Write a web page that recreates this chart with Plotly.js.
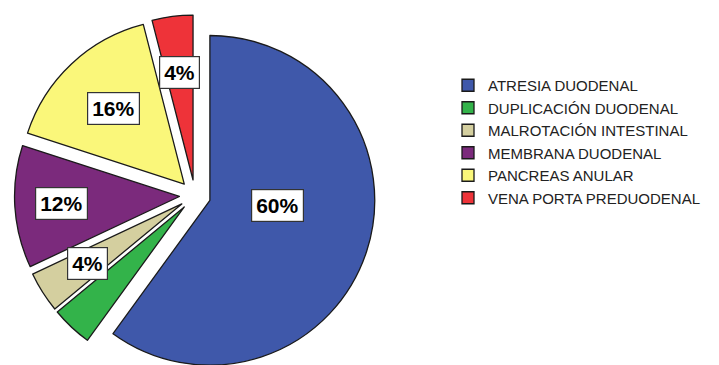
<!DOCTYPE html>
<html><head><meta charset="utf-8">
<script src="https://cdn.plot.ly/plotly-3.0.1.min.js"></script>
<style>html,body{margin:0;padding:0;overflow:hidden;background:#fff}</style>
</head><body>
<div id="chart" style="width:719px;height:376px"></div>
<script>
const categories = ['ATRESIA DUODENAL','DUPLICACIÓN DUODENAL','MALROTACIÓN INTESTINAL','MEMBRANA DUODENAL','PANCREAS ANULAR','VENA PORTA PREDUODENAL'];
const percents = [60, 4, 4, 12, 16, 4];
const labelTexts = ['60%', '', '4%', '12%', '16%', '4%'];
const colors = ['#3f58aa', '#33b34a', '#d4cf9f', '#7b2a7c', '#faf77a', '#ee3339'];

// style / layout constants
const labelRadius = [0.41, 0.65, 0.68, 0.714, 0.63, 0.66];
const labelAngleShift = [-11.4, 0, 0, 0, 0, 0];
const W = 719, H = 376, M = {l: 0, r: 0, t: 15, b: 0};
const PULL = 0.095;
const domainX = [0, 390 / 719];

const plotW = W - M.l - M.r, plotH = H - M.t - M.b;
const r = Math.min(plotW * (domainX[1] - domainX[0]), plotH) / (2 + 2 * PULL);
const cx = M.l + plotW * (domainX[0] + domainX[1]) / 2;
const cy = M.t + plotH / 2;
const total = percents.reduce((a, b) => a + b, 0);

const labelFont = {family: 'Liberation Sans, Arial, sans-serif', size: 21, color: '#000'};
const annotations = [];
let cum = 0;
percents.forEach((v, i) => {
  const mid = (cum + v / 2) / total * 2 * Math.PI + labelAngleShift[i] * Math.PI / 180;
  cum += v;
  if (!labelTexts[i]) return;
  const dx = Math.sin(mid), dy = -Math.cos(mid);
  const px = cx + (PULL + labelRadius[i]) * r * dx;
  const py = cy + (PULL + labelRadius[i]) * r * dy;
  annotations.push({
    x: (px - M.l) / plotW, y: 1 - (py - M.t) / plotH,
    xref: 'paper', yref: 'paper', xanchor: 'center', yanchor: 'middle',
    showarrow: false, text: '<b>' + labelTexts[i] + '</b>',
    font: labelFont, bgcolor: '#ffffff', bordercolor: '#333', borderwidth: 1.2, borderpad: 4
  });
});

const trace = {
  type: 'pie',
  labels: categories,
  values: percents,
  sort: false,
  direction: 'clockwise',
  rotation: 0,
  pull: PULL,
  textinfo: 'none',
  hoverinfo: 'label+percent',
  marker: {colors: colors, line: {color: '#1a1a1a', width: 1.3}},
  domain: {x: domainX, y: [0, 1]}
};

const layout = {
  width: W, height: H,
  margin: M,
  paper_bgcolor: '#fff',
  showlegend: true,
  legend: {
    x: 448 / 719, y: 1 - (69 - M.t) / plotH, xanchor: 'left', yanchor: 'top',
    font: {family: 'Liberation Sans, Arial, sans-serif', size: 15, color: '#222'},
    traceorder: 'normal', bgcolor: 'rgba(0,0,0,0)'
  },
  annotations: annotations
};

Plotly.newPlot('chart', [trace], layout, {displayModeBar: false, staticPlot: true});
</script>
</body></html>
